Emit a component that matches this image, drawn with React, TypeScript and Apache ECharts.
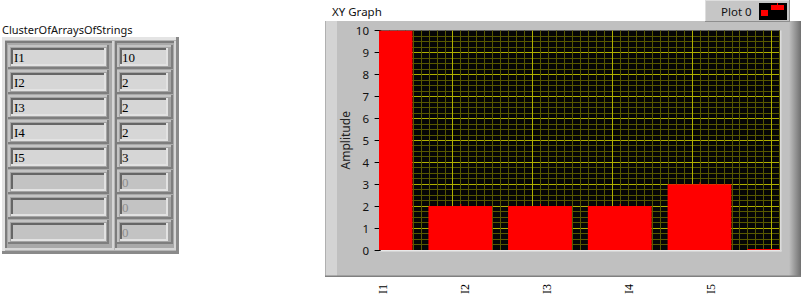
import React, { useEffect, useRef } from 'react';
import * as echarts from 'echarts';

// ---- data ----
const clusterTitle = 'ClusterOfArraysOfStrings';
const graphTitle = 'XY Graph';
const plotName = 'Plot 0';
const yAxisName = 'Amplitude';
const names = ['I1', 'I2', 'I3', 'I4', 'I5', '', '', ''];
const amounts = [10, 2, 2, 2, 3, 0, 0, 0];
const usedCount = 5;
const xPositions = [0, 1, 2, 3, 4, 5, 6, 7];
const xLabels = ['I1', 'I2', 'I3', 'I4', 'I5'];
const yMin = 0;
const yMax = 10;

const SANS = "'Noto Sans', 'Open Sans', sans-serif";
const SERIF = "'Liberation Serif', 'DejaVu Serif', serif";
const BAR_FRACTION = 0.8;

function bevel(x: number, y: number, w: number, h: number, fill: string, tl: string, br: string, t: number, z: number) {
  return [
    { type: 'rect', z, shape: { x, y, width: w, height: h }, style: { fill: br } },
    { type: 'rect', z, shape: { x, y, width: w - t, height: h - t }, style: { fill: tl } },
    { type: 'rect', z, shape: { x: x + t, y: y + t, width: w - 2 * t, height: h - 2 * t }, style: { fill } },
  ];
}

function buildGraphics() {
  const g: any[] = [];
  // Cluster title
  g.push({ type: 'text', z: 5, x: 2, y: 29, style: { text: clusterTitle, font: `11px ${SANS}`, fill: '#111', verticalAlign: 'middle', align: 'left' } });
  // Cluster frame
  g.push(...bevel(2, 37, 177, 217, '#b6b6b6', '#e4e4e4', '#8a8a8a', 3, -5));
  // array frames
  g.push(...bevel(5, 41, 109, 209, '#a9a9a9', '#7c7c7c', '#d6d6d6', 2, -4));
  g.push(...bevel(115, 41, 61, 209, '#a9a9a9', '#7c7c7c', '#d6d6d6', 2, -4));
  names.forEach((s, i) => {
    const y = 48 + i * 25;
    const used = i < usedCount;
    const fill = used ? '#d6d6d6' : '#c3c3c3';
    g.push(...bevel(8, y - 3, 101, 24, '#a4a4a4', '#c4c4c4', '#7e7e7e', 2, -3));
    g.push(...bevel(117, y - 3, 56, 24, '#a4a4a4', '#c4c4c4', '#7e7e7e', 2, -3));
    g.push(...bevel(11, y, 95, 18, fill, '#666666', '#e2e2e2', 2, -2));
    g.push(...bevel(120, y, 48, 18, fill, '#666666', '#e2e2e2', 2, -2));
    g.push({ type: 'text', z: 5, x: 14, y: y + 9.5, style: { text: s, font: `13px ${SERIF}`, fill: '#000', verticalAlign: 'middle', align: 'left' } });
    g.push({ type: 'text', z: 5, x: 122, y: y + 9.5, style: { text: String(amounts[i]), font: `13px ${SERIF}`, fill: used ? '#000' : '#8c8c8c', verticalAlign: 'middle', align: 'left' } });
  });

  // Graph frame
  g.push({ type: 'text', z: 5, x: 332, y: 11, style: { text: graphTitle, font: `11.5px ${SANS}`, fill: '#111', verticalAlign: 'middle', align: 'left' } });
  g.push({ type: 'rect', z: -5, shape: { x: 325, y: 21, width: 476, height: 256 }, style: { fill: '#c0c0c0' } });
  g.push({ type: 'rect', z: -4, shape: { x: 325, y: 21, width: 12, height: 255 }, style: { fill: '#d4d4d4' } });
  g.push({ type: 'rect', z: -4, shape: { x: 325, y: 21, width: 1, height: 255 }, style: { fill: '#b0b0b0' } });
  g.push({
    type: 'rect', z: -4, shape: { x: 789, y: 21, width: 12, height: 256 },
    style: { fill: new echarts.graphic.LinearGradient(0, 0, 1, 0, [{ offset: 0, color: '#c0c0c0' }, { offset: 1, color: '#707070' }]) },
  });
  g.push({ type: 'rect', z: -4, shape: { x: 325, y: 275.5, width: 476, height: 1.5 }, style: { fill: '#808080' } });
  // plot background and border
  g.push({ type: 'rect', z: -3, shape: { x: 379, y: 30.5, width: 401, height: 219.5 }, style: { fill: '#060606' } });
  g.push({ type: 'rect', z: -3, shape: { x: 379, y: 250, width: 402.5, height: 1.5 }, style: { fill: '#e8e8e8' } });
  g.push({ type: 'rect', z: -3, shape: { x: 780, y: 30.5, width: 1.5, height: 221 }, style: { fill: '#dcdcdc' } });

  // Legend
  g.push(...bevel(705, 0, 85, 22, '#c6c6c6', '#dedede', '#8e8e8e', 1, 6));
  g.push({ type: 'text', z: 8, x: 721, y: 11, style: { text: plotName, font: `11.5px ${SANS}`, fill: '#111', verticalAlign: 'middle', align: 'left' } });
  g.push({ type: 'rect', z: 8, shape: { x: 759, y: 3, width: 28, height: 17 }, style: { fill: '#000' } });
  g.push({ type: 'rect', z: 9, shape: { x: 761, y: 10, width: 7, height: 6 }, style: { fill: '#ff0000' } });
  g.push({ type: 'rect', z: 9, shape: { x: 771, y: 5, width: 13, height: 5 }, style: { fill: '#ff0000' } });
  g.push({ type: 'rect', z: 9, shape: { x: 777, y: 3, width: 1, height: 2 }, style: { fill: '#ff0000' } });
  return g;
}

function renderBar(params: any, api: any) {
  const x = api.value(0);
  const v = api.value(1);
  const top = api.coord([x, v]);
  const base = api.coord([x, 0]);
  const w = api.size([BAR_FRACTION, 0])[0];
  let h = base[1] - top[1];
  let y = top[1];
  if (h < 1) { h = 1; y = base[1] - 1; }
  const cs = params.coordSys;
  const area = { x: cs.x, y: cs.y, width: cs.width, height: cs.height };
  const rect = echarts.graphic.clipRectByRect({ x: base[0] - w / 2, y, width: w, height: h }, area);
  const nub = echarts.graphic.clipRectByRect({ x: base[0], y: y - 2, width: 1, height: 2 }, area);
  const children: any[] = [];
  if (rect) children.push({ type: 'rect', shape: rect, style: { fill: '#ff0000' } });
  if (nub && v > 0) children.push({ type: 'rect', shape: nub, style: { fill: '#ff0000' } });
  return { type: 'group', children };
}

export default function App() {
  const ref = useRef<HTMLDivElement>(null);
  useEffect(() => {
    if (!ref.current) return;
    const chart = echarts.init(ref.current, undefined, { renderer: 'svg' });
    const barData = xPositions.map((x, i) => [x, amounts[i]]);
    chart.setOption({
      animation: false,
      backgroundColor: '#ffffff',
      graphic: { elements: buildGraphics() },
      grid: [
        { left: 379, top: 30.5, width: 401, height: 219.5, containLabel: false },
        { left: 383, top: 250, width: 328, height: 31, containLabel: false },
      ],
      xAxis: [
        {
          gridIndex: 0, type: 'value', min: -0.02, max: 5.01,
          axisLine: { show: false }, axisTick: { show: false }, axisLabel: { show: false }, splitLine: { show: false },
        },
        {
          gridIndex: 0, type: 'value', min: 0.075, max: 5.105, minInterval: 1, maxInterval: 1,
          axisLine: { show: false }, axisTick: { show: false }, axisLabel: { show: false },
          splitLine: { show: true, showMinLine: false, showMaxLine: false, lineStyle: { color: '#b0b000', width: 1 } },
          minorTick: { show: false, splitNumber: 10 },
          minorSplitLine: { show: true, lineStyle: { color: '#585800', width: 1 } },
        },
        {
          gridIndex: 1, type: 'category', data: xLabels, boundaryGap: false, position: 'bottom',
          axisLine: { show: false }, axisTick: { show: false },
          axisLabel: { interval: 0, rotate: 90, margin: 3, fontFamily: SERIF, fontSize: 12, color: '#000' },
          splitLine: { show: false },
        },
      ],
      yAxis: [
        {
          gridIndex: 0, type: 'value', min: yMin, max: yMax, interval: 1,
          name: yAxisName, nameLocation: 'middle', nameGap: 22,
          nameTextStyle: { fontFamily: SANS, fontSize: 12, color: '#222' },
          axisLine: { show: true, lineStyle: { color: '#3c4c5c', width: 1 } },
          axisTick: { show: true, length: 6, lineStyle: { color: '#000' } },
          axisLabel: { margin: 10, fontFamily: SANS, fontSize: 11.5, color: '#111' },
          splitLine: { show: true, showMinLine: false, showMaxLine: false, lineStyle: { color: '#b0b000', width: 1 } },
          minorTick: { show: false, splitNumber: 4 },
          minorSplitLine: { show: true, lineStyle: { color: '#585800', width: 1 } },
        },
        { gridIndex: 1, type: 'value', show: false },
      ],
      series: [
        {
          type: 'custom', xAxisIndex: 0, yAxisIndex: 0, data: barData,
          encode: { x: 0, y: 1 }, renderItem: renderBar, clip: true, z: 3,
        },
      ],
    });
    return () => chart.dispose();
  }, []);
  return <div ref={ref} style={{ position: 'fixed', left: 0, top: 0, width: 803, height: 305, background: '#fff' }} />;
}
